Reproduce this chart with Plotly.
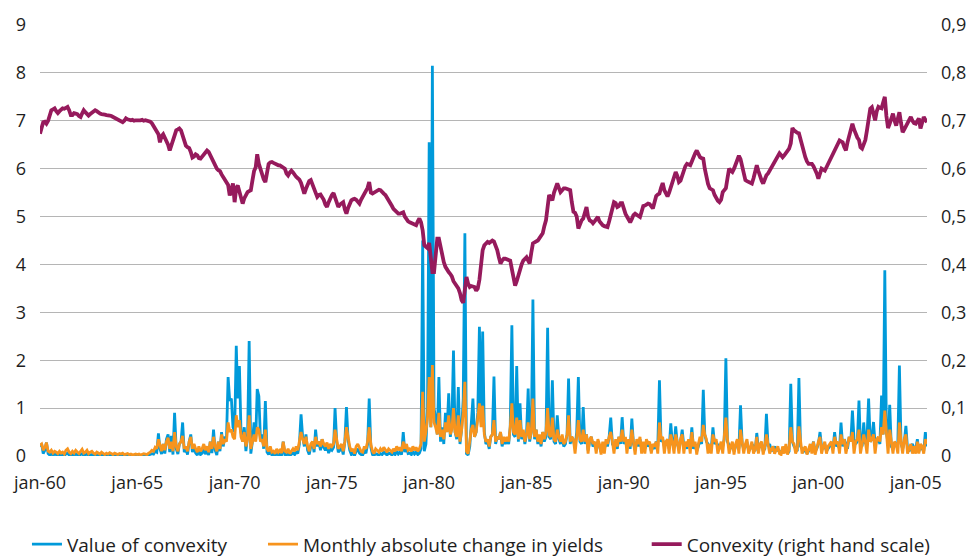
import pandas as pd
import plotly.graph_objects as go

# ---------------- data (monthly, jan-1960 .. aug-2005) ----------------
start_month = "1960-01-01"

value_of_convexity = [
    .20, .25, .05, .12, .28, .05, .02, .05, .01, .04, .03, .01,  # 1960
    .03, .01, .02, .01, .04, .06, .02, .01, .03, .01, .04, .02,  # 1961
    .01, .03, .05, .01, .02, .04, .01, .02, .03, .01, .01, .02,  # 1962
    .01, .01, .02, .01, .00, .01, .01, .01, .01, .00, .01, .01,  # 1963
    .01, .01, .01, .02, .01, .01, .01, .00, .01, .00, .01, .01,  # 1964
    .00, .01, .00, .01, .01, .01, .00, .02, .03, .05, .04, .10,  # 1965
    .08, .47, .15, .04, .25, .05, .35, .45, .08, .42, .03, .90,  # 1966
    .15, .04, .25, .30, .70, .08, .15, .03, .30, .45, .08, .20,  # 1967
    .06, .02, .12, .03, .06, .15, .04, .12, .02, .30, .06, .55,  # 1968
    .12, .02, .30, .10, .50, .20, .40, .35, 1.65, 1.15, 1.20, .60,  # 1969
    .50, 2.30, 1.20, 1.88, .50, .30, .60, .10, .40, 2.40, .05, .30,  # 1970
    .70, .35, 1.40, 1.25, .35, .45, .15, 1.15, .08, .03, .12, .02,  # 1971
    .04, .01, .05, .02, .04, .01, .30, .03, .02, .05, .01, .03,  # 1972
    .06, .03, .10, .05, .25, .87, .40, .20, .45, .12, .03, .20,  # 1973
    .30, .08, .55, .20, .30, .12, .35, .18, .12, .22, .06, .15,  # 1974
    .12, .18, 1.00, .30, .08, .12, .20, .03, .30, 1.02, .35, .12,  # 1975
    .03, .06, .01, .10, .15, .06, .03, .02, .10, .06, .25, 1.20,  # 1976
    .18, .03, .01, .05, .04, .02, .05, .03, .08, .04, .02, .06,  # 1977
    .05, .02, .06, .03, .10, .04, .08, .03, .50, .08, .20, .05,  # 1978
    .06, .03, .10, .04, .08, .03, .06, .15, 4.50, .10, .25, 1.00,  # 1979
    6.55, .60, 8.15, 1.00, .80, .45, 1.65, .30, .60, .25, .90, .50,  # 1980
    1.31, .40, .65, 2.20, .50, .35, 1.44, .25, .55, 1.20, 4.65, .05,  # 1981
    .02, .20, .60, 1.20, .40, .50, .90, 2.70, .70, 2.60, .50, .25,  # 1982
    .30, .15, .40, .45, 1.66, .25, .40, .35, .50, .20, .35, .25,  # 1983
    .35, .25, .60, 2.73, .45, .40, 1.88, .30, 1.10, .35, .50, .25,  # 1984
    .45, 1.41, .30, .50, 3.27, .35, .55, .25, .40, .20, .50, .30,  # 1985
    .40, 2.68, .40, .35, 1.58, .30, .25, .85, .35, .25, .40, .20,  # 1986
    .25, .45, 1.62, .25, .40, .30, .20, .50, 1.65, .30, .25, 1.02,  # 1987
    .25, .45, .12, .30, .40, .20, .25, .15, .30, .20, .08, .25,  # 1988
    .15, .30, .20, .40, .80, .25, .20, .30, .15, .40, .25, .81,  # 1989
    .25, .35, .20, .30, .15, .78, .25, .15, .30, .20, .35, .15,  # 1990
    .25, .15, .30, .20, .25, .10, .20, .15, .30, .20, 1.58, .30,  # 1991
    .35, .20, .25, .30, .15, .68, .25, .20, .62, .25, .15, .30,  # 1992
    .55, .20, .25, .15, .30, .20, .60, .15, .25, .10, .20, .35,  # 1993
    .25, 1.38, .45, .30, .25, .20, .15, .60, .25, .30, .20, .15,  # 1994
    .25, .20, .35, 2.04, .30, .20, .15, .25, .10, .20, .30, .15,  # 1995
    1.06, .25, .15, .20, .30, .10, .15, .25, .20, .10, .48, .15,  # 1996
    .20, .25, .10, .15, .88, .20, .25, .10, .15, .20, .10, .15,  # 1997
    .10, .05, .15, .10, .20, .05, .10, 1.51, .30, .20, .15, .10,  # 1998
    1.63, .20, .15, .10, .15, .05, .10, .20, .15, .30, .10, .15,  # 1999
    .25, .50, .20, .15, .25, .10, .15, .20, .25, .15, .50, .20,  # 2000
    .25, .15, .70, .20, .35, .25, .15, .40, .30, .95, .35, .25,  # 2001
    .30, 1.16, .25, .20, .70, .25, .35, 1.20, .30, .35, .71, .25,  # 2002
    .30, .35, .25, 1.26, .45, 3.88, .50, .25, 1.07, .20, .15, .25,  # 2003
    .20, .30, 1.89, .25, .15, .30, .63, .15, .10, .20, .25, .15,  # 2004
    .15, .35, .10, .20, .15, .10, .50, .20,                      # 2005
]

monthly_abs_change = [
    .22, .25, .12, .18, .28, .10, .08, .12, .06, .10, .08, .05,  # 1960
    .10, .06, .08, .04, .12, .15, .08, .05, .10, .06, .12, .08,  # 1961
    .05, .10, .14, .06, .08, .12, .05, .08, .10, .06, .04, .08,  # 1962
    .06, .04, .08, .05, .03, .06, .04, .07, .05, .03, .06, .04,  # 1963
    .03, .05, .04, .06, .03, .04, .05, .03, .04, .02, .03, .04,  # 1964
    .03, .04, .02, .03, .05, .04, .03, .06, .08, .12, .10, .18,  # 1965
    .15, .35, .20, .10, .25, .12, .30, .38, .15, .30, .10, .50,  # 1966
    .20, .10, .25, .30, .42, .15, .20, .10, .30, .40, .15, .25,  # 1967
    .15, .08, .20, .10, .15, .25, .12, .20, .08, .30, .15, .40,  # 1968
    .20, .10, .30, .15, .45, .25, .35, .30, .70, .50, .55, .40,  # 1969
    .35, .85, .60, .75, .40, .30, .50, .20, .35, .85, .15, .30,  # 1970
    .45, .30, .60, .55, .30, .35, .20, .55, .15, .10, .20, .08,  # 1971
    .10, .05, .15, .08, .12, .06, .30, .10, .08, .15, .05, .10,  # 1972
    .15, .10, .20, .12, .30, .50, .35, .25, .40, .20, .10, .25,  # 1973
    .30, .15, .40, .25, .30, .20, .35, .25, .20, .28, .15, .25,  # 1974
    .20, .25, .55, .30, .15, .20, .25, .10, .30, .60, .35, .20,  # 1975
    .10, .15, .05, .20, .25, .15, .10, .08, .20, .15, .30, .60,  # 1976
    .25, .10, .05, .15, .12, .08, .15, .10, .18, .12, .08, .15,  # 1977
    .12, .08, .15, .10, .20, .12, .18, .10, .30, .15, .25, .12,  # 1978
    .15, .10, .20, .12, .18, .10, .15, .25, 1.34, .30, .50, .80,  # 1979
    1.65, .60, 1.90, .70, .60, .45, .90, .40, .55, .35, .70, .50,  # 1980
    .85, .45, .55, 1.00, .50, .40, .85, .30, .55, .90, 1.55, .10,  # 1981
    .05, .30, .55, .65, .40, .50, .75, 1.10, .60, 1.05, .45, .30,  # 1982
    .35, .20, .40, .45, .75, .30, .40, .35, .50, .25, .40, .30,  # 1983
    .40, .30, .60, 1.10, .50, .45, .80, .35, .75, .40, .55, .30,  # 1984
    .45, .70, .35, .50, 1.20, .40, .55, .30, .45, .25, .50, .35,  # 1985
    .50, 1.00, .45, .40, .80, .35, .30, .55, .40, .30, .45, .25,  # 1986
    .30, .45, .85, .30, .40, .35, .05, .50, .75, .35, .30, .55,  # 1987
    .30, .45, .05, .35, .40, .25, .30, .05, .35, .25, .03, .30,  # 1988
    .05, .35, .25, .40, .50, .30, .05, .35, .20, .40, .30, .55,  # 1989
    .30, .40, .05, .35, .20, .55, .30, .03, .35, .25, .40, .05,  # 1990
    .30, .05, .35, .25, .30, .05, .25, .20, .30, .05, .70, .35,  # 1991
    .40, .05, .30, .35, .05, .45, .30, .05, .45, .30, .05, .35,  # 1992
    .45, .05, .30, .20, .35, .05, .50, .20, .30, .03, .25, .40,  # 1993
    .30, .65, .45, .35, .05, .25, .05, .45, .30, .35, .05, .20,  # 1994
    .30, .05, .40, .80, .35, .05, .20, .30, .03, .25, .35, .05,  # 1995
    .55, .30, .05, .25, .35, .05, .20, .30, .05, .15, .40, .05,  # 1996
    .25, .30, .03, .20, .45, .25, .05, .15, .20, .05, .15, .20,  # 1997
    .05, .03, .20, .05, .25, .03, .15, .60, .30, .25, .05, .15,  # 1998
    .62, .25, .05, .15, .20, .03, .15, .25, .05, .30, .03, .20,  # 1999
    .30, .40, .05, .20, .30, .05, .20, .25, .30, .05, .40, .25,  # 2000
    .30, .05, .45, .25, .35, .05, .20, .40, .30, .50, .05, .30,  # 2001
    .35, .55, .05, .25, .45, .30, .05, .55, .30, .35, .45, .05,  # 2002
    .35, .40, .30, .60, .45, .95, .50, .05, .55, .25, .05, .30,  # 2003
    .25, .05, .70, .30, .05, .35, .45, .05, .15, .25, .05, .20,  # 2004
    .05, .30, .05, .25, .20, .05, .35, .25,                      # 2005
]

convexity = [
    .673, .685, .697, .698, .694, .700, .715, .722, .724, .726, .720, .716,  # 1960
    .720, .724, .726, .725, .727, .729, .722, .712, .712, .716, .715, .714,  # 1961
    .710, .708, .715, .722, .718, .714, .711, .714, .717, .720, .722, .720,  # 1962
    .717, .715, .714, .714, .713, .712, .712, .711, .710, .708, .706, .705,  # 1963
    .703, .700, .698, .697, .700, .705, .703, .701, .701, .702, .700, .701,  # 1964
    .701, .700, .701, .702, .700, .701, .700, .701, .698, .695, .690, .685,  # 1965
    .678, .672, .655, .668, .672, .665, .659, .650, .638, .650, .659, .670,  # 1966
    .680, .682, .684, .680, .670, .655, .648, .645, .643, .635, .623, .625,  # 1967
    .630, .628, .622, .621, .625, .628, .633, .638, .635, .628, .620, .610,  # 1968
    .603, .600, .597, .595, .588, .582, .576, .572, .566, .544, .560, .569,  # 1969
    .530, .560, .565, .550, .535, .527, .538, .545, .551, .553, .555, .575,  # 1970
    .595, .603, .630, .610, .598, .585, .578, .572, .598, .610, .613, .614,  # 1971
    .612, .610, .608, .607, .607, .605, .603, .600, .590, .586, .592, .596,  # 1972
    .592, .586, .583, .580, .577, .570, .560, .548, .558, .568, .574, .576,  # 1973
    .565, .560, .550, .541, .545, .546, .542, .535, .525, .520, .530, .538,  # 1974
    .545, .549, .540, .530, .520, .525, .528, .530, .515, .506, .518, .528,  # 1975
    .534, .536, .537, .535, .530, .527, .535, .542, .548, .555, .560, .572,  # 1976
    .550, .548, .550, .552, .555, .556, .555, .550, .548, .545, .540, .533,  # 1977
    .527, .522, .516, .512, .508, .506, .506, .508, .509, .500, .494, .490,  # 1978
    .488, .486, .485, .484, .482, .490, .496, .488, .471, .440, .436, .434,  # 1979
    .445, .420, .384, .384, .430, .454, .454, .435, .420, .405, .395, .388,  # 1980
    .384, .380, .375, .365, .360, .355, .350, .340, .325, .320, .355, .374,  # 1981
    .360, .353, .355, .354, .353, .345, .350, .368, .400, .430, .440, .445,  # 1982
    .447, .445, .448, .450, .448, .440, .430, .415, .402, .408, .412, .412,  # 1983
    .410, .409, .408, .390, .370, .356, .365, .378, .390, .400, .408, .412,  # 1984
    .415, .408, .402, .425, .444, .446, .448, .450, .455, .460, .465, .480,  # 1985
    .492, .520, .545, .540, .534, .550, .562, .569, .560, .551, .555, .559,  # 1986
    .559, .557, .556, .555, .530, .510, .508, .500, .475, .485, .492, .496,  # 1987
    .510, .520, .500, .492, .490, .486, .490, .495, .499, .490, .485, .482,  # 1988
    .480, .479, .478, .490, .505, .520, .530, .528, .520, .522, .528, .528,  # 1989
    .515, .506, .500, .492, .488, .495, .503, .506, .503, .500, .499, .510,  # 1990
    .522, .523, .525, .527, .526, .520, .517, .530, .543, .546, .548, .560,  # 1991
    .570, .555, .548, .542, .550, .562, .570, .582, .593, .585, .572, .575,  # 1992
    .586, .598, .605, .610, .608, .607, .615, .625, .632, .638, .630, .624,  # 1993
    .622, .621, .600, .579, .568, .559, .557, .555, .545, .538, .533, .530,  # 1994
    .535, .551, .555, .559, .580, .600, .596, .593, .600, .608, .618, .627,  # 1995
    .620, .603, .590, .576, .574, .572, .570, .569, .580, .595, .607, .595,  # 1996
    .582, .575, .569, .578, .586, .590, .596, .602, .610, .615, .621, .625,  # 1997
    .632, .628, .624, .628, .632, .635, .642, .653, .685, .680, .676, .675,  # 1998
    .674, .660, .645, .635, .624, .615, .610, .610, .610, .605, .598, .590,  # 1999
    .579, .590, .600, .598, .596, .603, .610, .618, .624, .630, .638, .645,  # 2000
    .652, .659, .657, .655, .645, .638, .655, .670, .680, .694, .682, .670,  # 2001
    .665, .660, .645, .642, .650, .660, .680, .700, .725, .728, .710, .701,  # 2002
    .720, .729, .727, .726, .738, .750, .710, .685, .694, .705, .715, .700,  # 2003
    .690, .705, .718, .695, .676, .682, .687, .695, .702, .708, .700, .695,  # 2004
    .694, .700, .705, .684, .695, .708, .702, .697,                          # 2005
]

tick_years = [1960, 1965, 1970, 1975, 1980, 1985, 1990, 1995, 2000, 2005]
tick_labels = ["jan-60", "jan-65", "jan-70", "jan-75", "jan-80",
               "jan-85", "jan-90", "jan-95", "jan-00", "jan-05"]
left_ticks = [0, 1, 2, 3, 4, 5, 6, 7, 8, 9]
right_ticks = [0, 0.1, 0.2, 0.3, 0.4, 0.5, 0.6, 0.7, 0.8, 0.9]

series_names = ["Value of convexity", "Monthly absolute change in yields",
                "Convexity (right hand scale)"]

# ---------------- styling ----------------
BLUE = "#009ADA"
ORANGE = "#F7941D"
PURPLE = "#961A5C"
GRID = "#B5B5B5"
TEXT = "#1E1E1E"
FONT = "Open Sans"


def months(n):
    return pd.date_range(start_month, periods=n, freq="MS")


x_blue = months(len(value_of_convexity))
x_orange = months(len(monthly_abs_change))
x_purple = months(len(convexity))
x_end = max(x_blue[-1], x_orange[-1], x_purple[-1])

fig = go.Figure()
fig.add_trace(go.Scatter(x=x_blue, y=value_of_convexity, mode="lines",
                         name=series_names[0], legend="legend",
                         line=dict(color=BLUE, width=2.8)))
fig.add_trace(go.Scatter(x=x_orange, y=monthly_abs_change, mode="lines",
                         name=series_names[1], legend="legend2",
                         line=dict(color=ORANGE, width=2.8)))
fig.add_trace(go.Scatter(x=x_purple, y=convexity, mode="lines", yaxis="y2",
                         name=series_names[2], legend="legend3",
                         line=dict(color=PURPLE, width=3.8)))

legend_common = dict(orientation="h", yanchor="middle", xanchor="left",
                     y=-0.205, bgcolor="rgba(0,0,0,0)",
                     font=dict(family=FONT, size=19, color=TEXT))

tick_font = dict(family=FONT, size=18, color=TEXT)

fig.update_layout(
    width=970, height=560,
    margin=dict(l=40, r=43, t=25, b=104, pad=0, autoexpand=False),
    paper_bgcolor="white", plot_bgcolor="white",
    separators=",.",
    font=dict(family=FONT, size=18, color=TEXT),
    showlegend=True,
    legend=dict(legend_common, x=-0.0147),
    legend2=dict(legend_common, x=0.2514),
    legend3=dict(legend_common, x=0.684),
    xaxis=dict(type="date", range=[x_purple[0], x_end],
               tickvals=[pd.Timestamp(f"{y}-01-01") for y in tick_years],
               ticktext=tick_labels, showgrid=False, zeroline=False,
               showline=False, ticks="", ticklabelstandoff=14,
               automargin=False, tickfont=tick_font),
    yaxis=dict(range=[0, 9], tickvals=left_ticks, showgrid=True,
               gridcolor=GRID, gridwidth=1.3, zeroline=False, showline=False,
               ticks="", ticklabelstandoff=13, automargin=False,
               tickfont=tick_font),
    yaxis2=dict(range=[0, 0.9], tickvals=right_ticks, overlaying="y",
                side="right", showgrid=False, zeroline=False, showline=False,
                ticks="", ticklabelstandoff=13, automargin=False,
                tickfont=tick_font),
)

fig.write_html("out.html", config={"displayModeBar": False},
               post_script="document.body.style.margin='0';")
